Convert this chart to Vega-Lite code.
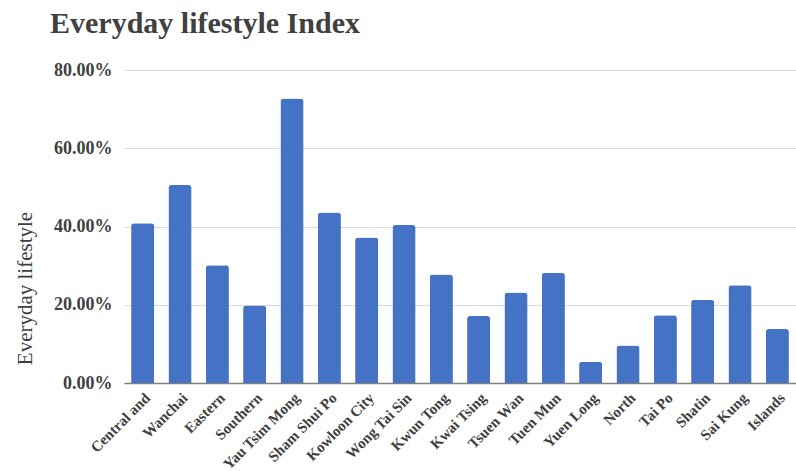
{
  "$schema": "https://vega.github.io/schema/vega-lite/v6.json",
  "width": 672,
  "height": 313,
  "autosize": {"type": "none"},
  "padding": {"left": 124, "top": 70, "right": 0, "bottom": 88},
  "background": "white",
  "title": {
    "text": "Everyday lifestyle Index",
    "anchor": "start",
    "frame": "group",
    "dx": -74,
    "dy": 32,
    "offset": 30,
    "font": "Liberation Serif",
    "fontSize": 30,
    "fontWeight": "bold",
    "color": "#404040",
    "baseline": "alphabetic"
  },
  "data": {
    "values": [
      {"district": "Central and", "index": 0.408},
      {"district": "Wanchai", "index": 0.506},
      {"district": "Eastern", "index": 0.301},
      {"district": "Southern", "index": 0.198},
      {"district": "Yau Tsim Mong", "index": 0.727},
      {"district": "Sham Shui Po", "index": 0.436},
      {"district": "Kowloon City", "index": 0.372},
      {"district": "Wong Tai Sin", "index": 0.404},
      {"district": "Kwun Tong", "index": 0.277},
      {"district": "Kwai Tsing", "index": 0.171},
      {"district": "Tsuen Wan", "index": 0.231},
      {"district": "Tuen Mun", "index": 0.282},
      {"district": "Yuen Long", "index": 0.054},
      {"district": "North", "index": 0.096},
      {"district": "Tai Po", "index": 0.173},
      {"district": "Shatin", "index": 0.213},
      {"district": "Sai Kung", "index": 0.25},
      {"district": "Islands", "index": 0.138}
    ]
  },
  "mark": {
    "type": "bar",
    "color": "#4472C4",
    "cornerRadiusTopLeft": 3,
    "cornerRadiusTopRight": 3
  },
  "encoding": {
    "x": {
      "field": "district",
      "type": "nominal",
      "sort": null,
      "title": null,
      "scale": {"paddingInner": 0.38, "paddingOuter": 0.19},
      "axis": {
        "labelAngle": -45,
        "labelFont": "Liberation Serif",
        "labelFontSize": 15,
        "labelFontWeight": "bold",
        "labelColor": "#404040",
        "labelPadding": 7,
        "ticks": false,
        "domainColor": "#7f7f7f",
        "domainWidth": 1.5,
        "grid": false
      }
    },
    "y": {
      "field": "index",
      "type": "quantitative",
      "title": "Everyday lifestyle",
      "scale": {"domain": [0, 0.8], "nice": false},
      "axis": {
        "values": [0, 0.2, 0.4, 0.6, 0.8],
        "format": ".2%",
        "labelFont": "Liberation Serif",
        "labelFontSize": 18,
        "labelFontWeight": "bold",
        "labelColor": "#404040",
        "labelPadding": 12,
        "ticks": false,
        "domain": false,
        "gridColor": "#d9d9d9",
        "gridWidth": 1,
        "titleFont": "Liberation Serif",
        "titleFontSize": 21,
        "titleFontWeight": "normal",
        "titleColor": "#404040",
        "titleAngle": -90,
        "titleAlign": "center",
        "titleBaseline": "alphabetic",
        "titleX": -93,
        "titleY": 218
      }
    }
  },
  "config": {"view": {"stroke": null}}
}
